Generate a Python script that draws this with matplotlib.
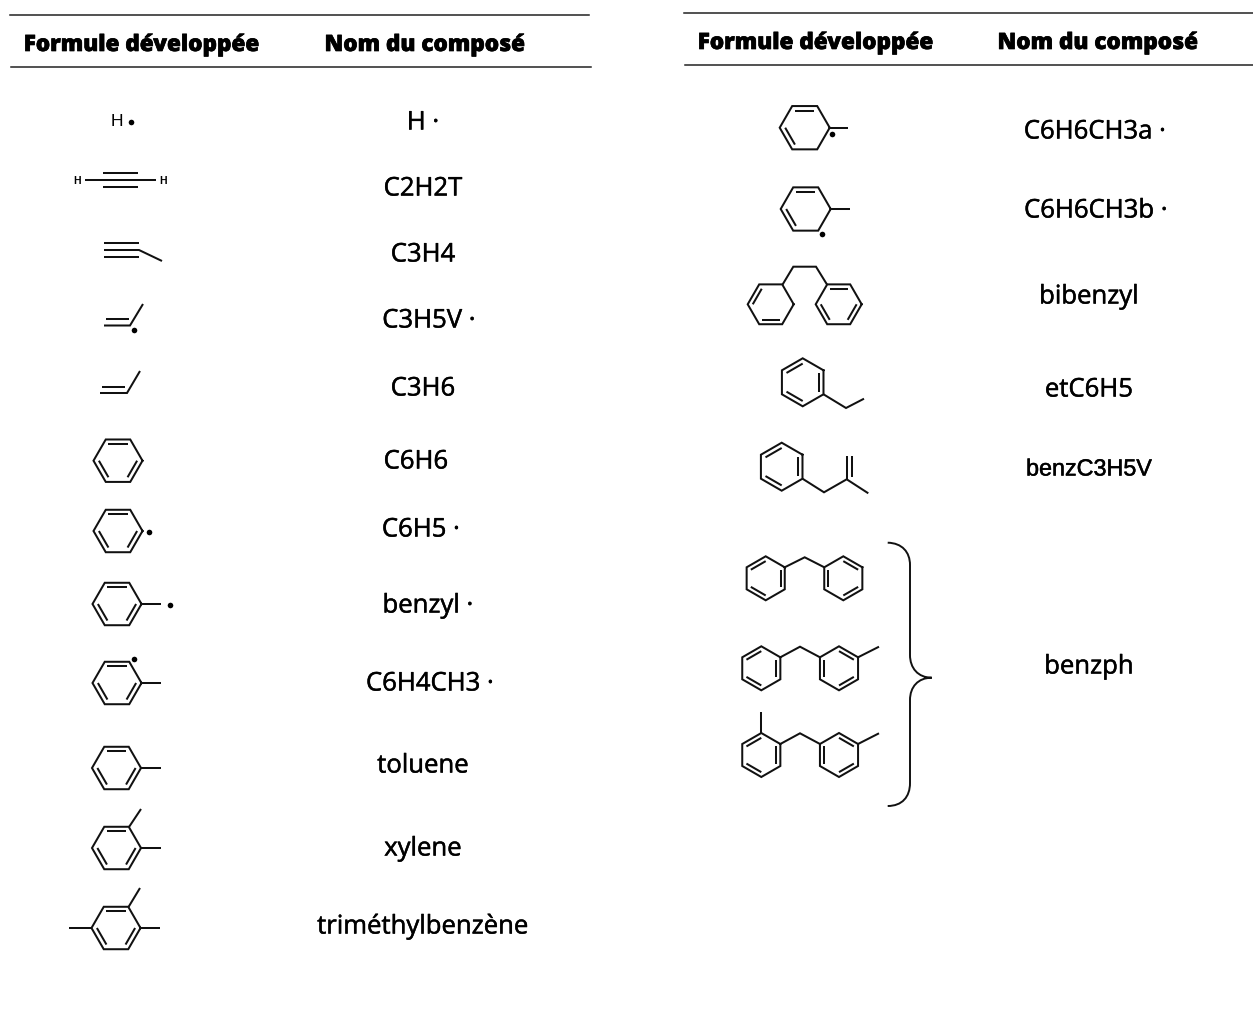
import numpy as np
import matplotlib
matplotlib.use("Agg")
import matplotlib.pyplot as plt
import matplotlib.patheffects as pe
from matplotlib.path import Path
from matplotlib.patches import PathPatch

W, H = 1253, 1028
INK = "#111111"

# Table text
HEADER_FORMULA = "Formule développée"
HEADER_NAME = "Nom du composé"
NAMES_LEFT = ["H ·", "C2H2T", "C3H4", "C3H5V ·", "C3H6", "C6H6", "C6H5 ·", "benzyl ·",
              "C6H4CH3 ·", "toluene", "xylene", "triméthylbenzène"]
NAMES_LEFT_X = [423, 423, 423, 429, 423, 416, 421, 428, 430, 423, 423, 423]
NAMES_LEFT_Y = [121, 187, 253, 319, 387, 460, 528, 604, 682, 764, 847, 925]
NAMES_RIGHT = ["C6H6CH3a ·", "C6H6CH3b ·", "bibenzyl", "etC6H5", "benzC3H5V", "benzph"]
NAMES_RIGHT_X = [1095, 1096, 1089, 1089, 1089, 1089]
NAMES_RIGHT_Y = [130, 209, 295, 388, 469, 665]

fig = plt.figure(figsize=(W / 100, H / 100), dpi=100, facecolor="white")
ax = fig.add_axes([0, 0, 1, 1])
ax.set_xlim(0, W)
ax.set_ylim(H, 0)
ax.axis("off")

LW = 1.45


def seg(*pts, lw=LW):
    xs, ys = zip(*pts)
    ax.plot(xs, ys, color=INK, lw=lw, solid_capstyle="butt", solid_joinstyle="miter")


def dot(x, y, r=5.6):
    ax.plot([x], [y], "o", color="black", ms=r * 0.72, mew=0)


def vertex(c, R, a):
    return (c[0] + R * np.cos(np.radians(a)), c[1] - R * np.sin(np.radians(a)))


def ring(c, R, pointy=False, doubles=()):
    start = 30 if pointy else 0
    angs = [start + 60 * i for i in range(7)]
    pts = [vertex(c, R, a) for a in angs]
    xs, ys = zip(*pts)
    ax.plot(xs, ys, color=INK, lw=LW, solid_joinstyle="miter")
    for m in doubles:
        a = np.array(vertex(c, R, m - 30))
        b = np.array(vertex(c, R, m + 30))
        ctr = np.array(c)
        k = 0.78
        a2, b2 = ctr + (a - ctr) * k, ctr + (b - ctr) * k
        seg(tuple(a2), tuple(b2))


FLAT = (90, -30, -150)
PT_L = (120, 0, 240)      # upper-left, right, lower-left
PT_R = (180, 60, -60)     # left, upper-right, lower-right

# ---- header rules and headers
for (x0, x1, y) in [(10, 589, 15), (11, 591, 67), (684, 1253, 13), (685, 1253, 65)]:
    ax.plot([x0, x1], [y, y], color="#222222", lw=1.1)

HEAD_FX = [pe.withStroke(linewidth=0.5, foreground="black")]
NAME_FX = [pe.withStroke(linewidth=0.35, foreground="black")]

for x, y in [(142, 45), (816, 43)]:
    ax.text(x, y, HEADER_FORMULA, ha="center", va="center", family="Open Sans",
            weight="extra bold", fontsize=16.2, color="black", path_effects=HEAD_FX)
for x, y in [(425, 45), (1098, 43)]:
    ax.text(x, y, HEADER_NAME, ha="center", va="center", family="Open Sans",
            weight="extra bold", fontsize=16.2, color="black", path_effects=HEAD_FX)

for n, x, y in zip(NAMES_LEFT + NAMES_RIGHT, NAMES_LEFT_X + NAMES_RIGHT_X, NAMES_LEFT_Y + NAMES_RIGHT_Y):
    if n == "benzC3H5V":
        ax.text(x, y, n, ha="center", va="center", family="Liberation Sans", fontsize=16.8,
                color="black", path_effects=NAME_FX)
    else:
        ax.text(x, y + 2, n, ha="center", va="center", family="Open Sans", fontsize=18.5,
                color="black", path_effects=NAME_FX)

# ---- small molecules, left column
ax.text(117, 121, "H", ha="center", va="center", family="Liberation Sans", fontsize=12.5, color="black")
dot(130.5, 122)
ax.text(77, 180.5, "H", ha="center", va="center", family="Liberation Sans", fontsize=7.5, weight="bold", color="black")
ax.text(163, 180.5, "H", ha="center", va="center", family="Liberation Sans", fontsize=7.5, weight="bold", color="black")
seg((85, 180), (156, 180))
seg((103, 173), (138, 173))
seg((103, 187), (138, 187))
seg((104, 243), (139, 243))
seg((104, 257), (139, 257))
seg((104, 250), (139, 250), (162, 261))
seg((104, 325.5), (130, 325.5), (143, 304))
seg((106, 319), (129, 319))
dot(133.5, 330)
seg((100, 393), (127, 393), (140, 371))
seg((102, 387), (125, 387))

ring((118, 460.7), 24.5, doubles=FLAT)
ring((118, 531), 24.5, doubles=FLAT)
dot(149, 532)
ring((117, 604), 24.5, doubles=FLAT)
seg((141.5, 604), (161, 604))
dot(170, 605)
ring((117, 683), 24.5, doubles=FLAT)
seg((141.5, 683), (161, 683))
dot(133.5, 659)
ring((116.5, 768), 24.5, doubles=FLAT)
seg((141, 768), (161, 768))
ring((116.5, 848), 24.5, doubles=FLAT)
seg((141, 848), (161, 848))
seg((129, 827), (141, 809))
ring((116, 928), 24.5, doubles=FLAT)
seg((140.5, 928), (160, 928))
seg((91.5, 928), (69, 928))
seg((128.5, 907), (140, 888))

# ---- right column
ring((804.7, 127.7), 25, doubles=(90, -150))
seg((829.7, 127.7), (848, 127.7))
dot(832, 134)
ring((805.7, 209), 25, doubles=(90, -150))
seg((830.7, 209), (850, 209))
dot(821.7, 234)
ring((770.7, 304.3), 23, doubles=(150, -90))
ring((838.7, 304.3), 23, doubles=(90, -30, -150))
seg((782.3, 285), (793.3, 266.7), (816, 266.7), (827.3, 285))

ring((802.7, 382.3), 24, pointy=True, doubles=PT_L)
seg((823.5, 394.3), (846, 408), (864, 398.7))
ring((781.7, 466.7), 24, pointy=True, doubles=PT_L)
seg((802.5, 478.7), (824, 492.3), (846.7, 479.3), (868.3, 493.3))
seg((846.7, 479.3), (846.7, 455.7))
seg((851.7, 476.7), (851.7, 455.7))

ring((765.7, 578.3), 22, pointy=True, doubles=PT_L)
ring((843.3, 578.3), 22, pointy=True, doubles=PT_R)
seg((784.7, 567.3), (804.7, 557.3), (824.3, 567.3))

ring((761.3, 668.3), 22, pointy=True, doubles=PT_L)
ring((839, 668.3), 22, pointy=True, doubles=PT_R)
seg((780.3, 657.3), (800, 646.7), (820, 657.3))
seg((858, 657.3), (879, 646.7))

ring((761.3, 755), 22, pointy=True, doubles=PT_L)
ring((839, 755), 22, pointy=True, doubles=PT_R)
seg((780.3, 744), (800, 733.3), (820, 744))
seg((858, 744), (879, 733.3))
seg((761.3, 733), (761.3, 711.7))

# ---- brace
verts = [(887.7, 542.7), (902, 543), (910, 552), (910, 565),
         (910, 655),
         (910, 668), (918, 677.7), (931.7, 677.7),
         (918, 677.7), (910, 687), (910, 700),
         (910, 783),
         (910, 797), (902, 806), (887.7, 806)]
codes = [Path.MOVETO, Path.CURVE4, Path.CURVE4, Path.CURVE4,
         Path.LINETO,
         Path.CURVE4, Path.CURVE4, Path.CURVE4,
         Path.CURVE4, Path.CURVE4, Path.CURVE4,
         Path.LINETO,
         Path.CURVE4, Path.CURVE4, Path.CURVE4]
ax.add_patch(PathPatch(Path(verts, codes), fill=False, edgecolor=INK, lw=1.4))

fig.savefig("out.png", dpi=100, facecolor="white")
